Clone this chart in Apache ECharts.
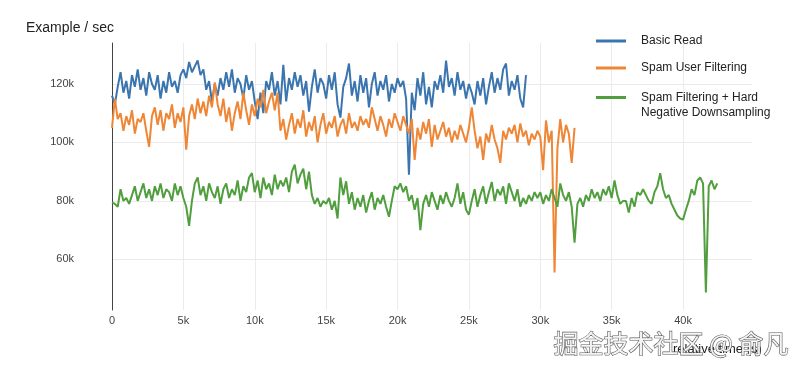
<!DOCTYPE html>
<html>
<head>
<meta charset="utf-8">
<script src="https://cdn.jsdelivr.net/npm/echarts@6/dist/echarts.min.js"></script>
<style>html,body{margin:0;padding:0;background:#fff}#c{width:800px;height:369px}</style>
</head>
<body>
<div id="c"></div>
<script>
// sampling: one value every 200 s, starting at t = 0 s
const SAMPLE_START_S = 0;
const SAMPLE_STEP_S = 200;

const seriesNames = ['Basic Read', 'Spam User Filtering', 'Spam Filtering + Hard\nNegative Downsampling'];

// examples / sec, in thousands
const basicRead = [
  116,113,119,124,117,121,115,123,119,125,
  118,122,116,124,120,118,123,115,121,117,
  124,119,121,117,123,125,122,127.5,124,126,
  128,123,125,118,121,114,120,116,122,118,
  124,119,125,117,122,120,115,123,118,121,
  114,108,117,110,121,118,124,116,121,113,
  126.5,114,122,118,124,119,123,116,121,110.5,
  119,125,117,122,120,115,123,118,124,113,
  108.5,119,122,127,116,121,114,123,117,122,
  112,120,124,116,121,118,123,114,120,117,
  122,119,121,115,89,117,111,122,116,124,
  113,119,112,121,118,123,117,128,119,122,
  116,124,118,121,115,120,117,113,121,116,
  122,113,119,124,117,122,118,125,127,116,
  121,118,123,115,112,123
];

const spamUserFiltering = [
  105,115,108,110,104,109,106,111,103,108,
  107,110,104,98.5,109,112,106,111,104,110,
  108,113,105,110,107,112,97.5,109,113,108,
  115,110,114,109,116,112,120.5,113,109,115,
  107,112,104,110,114,108,117,111,106,113,
  109,115,112,118,110,114,117,111,117,104,
  108,101,106,110,103,108,105,111,102,107,
  104,109,100,106,110,103,107,105,109,102,
  106,108,103,110,105,107,104,109,106,108,
  105,112,108,104,109,106,102,108,105,110,
  107,104,109,106,103,108,94,105,101,107,
  103,108,98.5,106,101,104,107,102,105,100,
  104,101,106,103,100,105,112,104,98,102,
  94,103,100,106,101,98,93,104,101,105,
  103,106,100,106.5,102,104,99,103,101,104,
  102,90.5,107.5,100,104,55.5,98,108,100,106,
  103,93,105
];

const spamHardNegative = [
  79.5,79,78,84,80,81,79,82,85,80,
  83,86,81,84,80,85,82,86,81,84,
  83,80,86,82,85,81,78,71.5,80,86,
  88,82,85,80,86,83,81,85,79,84,
  86,81,84,82,87,80,85,83,88,89.5,
  83,87,81,88,84,86,82,89,84,87,
  85,88,83,90,92.4,86,89,91,84,90,
  82,79,81,78,80,79,81,77,80,74,
  88,82,86.7,79,83,77,81,78,82,76,
  80,83,77,81,79,82,78,74.6,80,85,
  84,86,83,85,80,82,77,81,70,79,
  82,78,83,80,77,82,79,83,80,78,
  81,86,79,83,77,75.3,80,84,78,82,
  85,79,83,86.5,80,84,82,85,79,86,
  83,80,84,78,81,79,82,80,83,81,
  83,79,82,80,84,81,78,86,82,80,
  83,78,65.7,79,81,78,82,80,84,81,
  83,80,84,82,85,81,87,82,79,80,
  80,76,81,78,83,82,84,82,80,79,
  83,85,89.5,84,81,82,79,77,75,74,
  73.6,77,80,84,82,87,88,86,48.7,85,
  87,84,86
];

const xTickValues = [0,5000,10000,15000,20000,25000,30000,35000,40000];
const yTickValues = [60,80,100,120];

const colors = ['#3b75af', '#ef8636', '#519e3e'];
const FONT = '"Liberation Sans", Arial, sans-serif';

function toPairs(vals) {
  return vals.map((v, i) => [SAMPLE_START_S + i * SAMPLE_STEP_S, v]);
}

const chart = echarts.init(document.getElementById('c'), null, {renderer: 'canvas'});
const allSeries = [basicRead, spamUserFiltering, spamHardNegative];

chart.setOption({
  animation: false,
  color: colors,
  title: {
    text: 'Example / sec',
    left: 21, top: 16,
    textStyle: {fontFamily: FONT, fontSize: 14, fontWeight: 'normal', color: '#222'}
  },
  legend: [
    {
      data: [seriesNames[0], seriesNames[1]],
      orient: 'vertical', left: 596, top: 33.5, padding: 0,
      itemWidth: 30, itemHeight: 3, itemGap: 12, icon: 'rect',
      textStyle: {fontFamily: FONT, fontSize: 12, color: '#222', lineHeight: 15, padding: [0,0,0,10]}
    },
    {
      data: [seriesNames[2]],
      orient: 'vertical', left: 596, top: 75, padding: 0,
      itemWidth: 30, itemHeight: 3, icon: 'rect',
      formatter: name => '\n' + name,
      textStyle: {fontFamily: FONT, fontSize: 12, color: '#222', lineHeight: 15, padding: [0,0,0,10]}
    }
  ],
  grid: {left: 112, right: 48, top: 43, bottom: 59, containLabel: false},
  xAxis: {
    type: 'value', min: 0, max: 44830,
    axisLine: {show: false},
    axisTick: {show: false, customValues: xTickValues},
    axisLabel: {
      customValues: xTickValues,
      fontFamily: FONT, fontSize: 11, color: '#444', margin: 5,
      formatter: v => v === 0 ? '0' : (v / 1000) + 'k'
    },
    splitLine: {show: true, lineStyle: {color: '#ebebeb', width: 1}}
  },
  yAxis: {
    type: 'value', min: 42.7, max: 134,
    axisLine: {show: true, lineStyle: {color: '#444', width: 1}},
    axisTick: {show: false, customValues: yTickValues},
    axisLabel: {
      customValues: yTickValues,
      fontFamily: FONT, fontSize: 11, color: '#444', margin: 38,
      formatter: v => v + 'k'
    },
    splitLine: {show: true, lineStyle: {color: '#ebebeb', width: 1}}
  },
  graphic: [
    {
      type: 'text', left: 673, top: 343, z: 5,
      style: {text: 'relative time (s)', font: '13px "Liberation Sans", Arial, sans-serif', fill: '#222'}
    },
    {
      type: 'text', left: 553, top: 330, z: 10,
      style: {
        text: '掘金技术社区 @ 俞凡',
        font: '25px "Noto Sans CJK SC", sans-serif',
        fill: '#f4f4f4', stroke: '#5a5a5a', lineWidth: 1.2
      }
    }
  ],
  series: allSeries.map((vals, k) => ({
    name: seriesNames[k],
    type: 'line',
    data: toPairs(vals),
    showSymbol: false,
    symbol: 'none',
    lineStyle: {width: 2, color: colors[k]},
    itemStyle: {color: colors[k]}
  }))
});
</script>
</body>
</html>
